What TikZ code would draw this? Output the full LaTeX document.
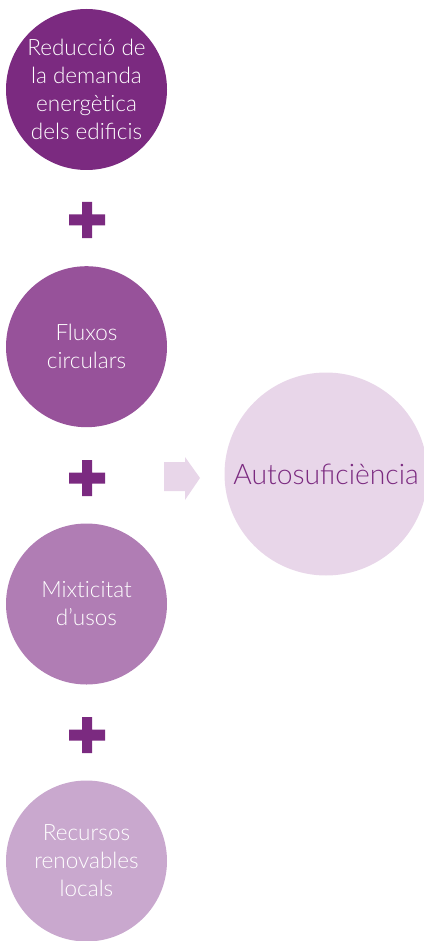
\documentclass[tikz,border=0pt]{standalone}
\usepackage{fontspec}
\setmainfont{Lato Light}
\definecolor{purpA}{HTML}{7B2A80}
\definecolor{purpB}{HTML}{97529A}
\definecolor{purpC}{HTML}{B07DB4}
\definecolor{purpD}{HTML}{C9A8CE}
\definecolor{purpE}{HTML}{E8D6E9}
\begin{document}
\begin{tikzpicture}[x=1pt,y=-1pt,
  bubble/.style={circle,minimum size=161pt,inner sep=0pt,align=center,
    text=white,font=\fontsize{22.5}{28}\selectfont}]
\useasboundingbox (0,0) rectangle (423,941);
\node [bubble,fill=purpA] (reduccio) at (86.5,89.5) {Reducció de\\la demanda\\energèt\kern0pt ica\\dels edificis};
\node [bubble,fill=purpB] (fluxos) at (86.5,346.7) {Fluxos\\circulars};
\node [bubble,fill=purpC] (mixticitat) at (86.5,604) {Mixt\kern0pt icitat\\d’usos};
\node [bubble,fill=purpD] (recursos) at (86.5,861) {Recursos\\renovables\\locals};
\node [bubble,fill=purpE,minimum size=203pt,text=purpA,font=\fontsize{28.3}{34}\selectfont] (autosuf) at (326,474) {Autosuficiència};
% plus signs between the bubbles
\foreach \y in {220,478,735}
  \fill [purpA] (69,\y-5.5) rectangle (105,\y+5.5) (82,\y-18) rectangle (92,\y+18);
% block arrow
\fill [purpE] (164,462) -- (185,462) -- (185,457) -- (200,478) -- (185,500) -- (185,491) -- (164,491) -- cycle;
\end{tikzpicture}
\end{document}
